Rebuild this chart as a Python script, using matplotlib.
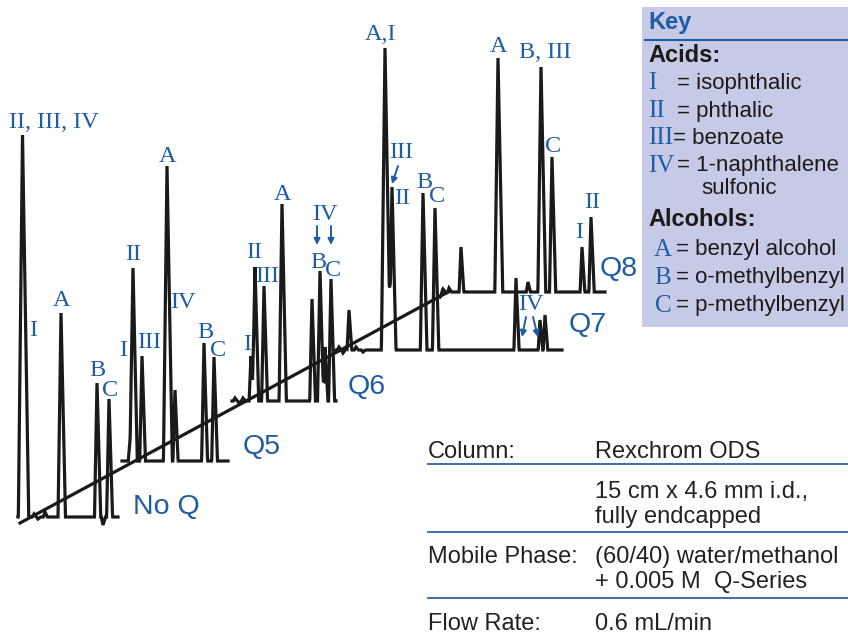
import numpy as np
import matplotlib
matplotlib.use("Agg")
import matplotlib.pyplot as plt

# --- datos: picos de cada cromatograma (posicion relativa, altura) ---
traces = ["No Q", "Q5", "Q6", "Q7", "Q8"]

noq_t = [4.5, 16, 20, 27, 43, 79, 85, 91]
noq_h = [382, 3, -2, 5, 204, 134, -8, 118]

q5_t = [8, 11, 20, 45, 53, 82, 92]
q5_h = [21, 193, 105, 295, 71, 118, 104]

q6_t = [3, 7, 11, 19, 23, 32, 50, 80, 88, 93, 99]
q6_h = [3, -2, 3, 45, 134, 115, 197, 102, 130, 54, 122]

q7_t = [3, 7, 10, 13, 20, 27, 49, 56, 87, 99, 180, 204, 209]
q7_h = [3, -3, 2, 40, 3, -2, 302, 163, 157, 142, 72, 30, 35]

q8_t = [0, 3, 6, 9, 21, 58, 88, 101, 112, 142, 151]
q8_h = [-5, 3, -1, 4, 45, 234, 10, 225, 135, 45, 75]

peak_t = [noq_t, q5_t, q6_t, q7_t, q8_t]
peak_h = [noq_h, q5_h, q6_h, q7_h, q8_h]
trace_len = [100, 106, 104, 226, 165]

# --- posicion de cada traza en la figura (efecto 3D) ---
origins = [(18, 517), (122, 461), (232, 401), (336, 350), (440, 292)]
qlabel_pos = [(133, 507), (243, 447), (348, 387), (569, 325), (600, 269)]

BLUE = "#1f5ca6"
KEYBG = "#c6cae6"


def build_trace(t_end, pos, hts):
    t = np.arange(0, t_end + 0.01, 0.25)
    y = np.zeros_like(t)
    for p, h in zip(pos, hts):
        w = 2.0 + abs(h) / 120.0
        wl, wr = w * 0.8, w * 1.2
        tri = np.where(t < p, 1 - (p - t) / wl, 1 - (t - p) / wr)
        y += h * np.clip(tri, 0, None)
    return t, y


fig = plt.figure(figsize=(8.48, 6.35), dpi=100)
ax = fig.add_axes([0, 0, 1, 1])
ax.set_xlim(0, 848)
ax.set_ylim(635, 0)
ax.axis("off")

for i, name in enumerate(traces):
    t, y = build_trace(trace_len[i], peak_t[i], peak_h[i])
    x0, y0 = origins[i]
    ax.plot(x0 + t, y0 - y, color="#1a1a1a", lw=2.3, solid_joinstyle="miter")
    ax.text(qlabel_pos[i][0], qlabel_pos[i][1], name, color=BLUE, fontsize=20.5,
            family="Liberation Sans", ha="left", va="center")

# eje diagonal
ax.plot([20, 450], [523, 291], color="#1a1a1a", lw=2.3)

# etiquetas de picos
serif = dict(color=BLUE, fontsize=17.5, family="Liberation Serif", ha="center", va="center")
peak_labels = [
    ("II, III, IV", 54, 123), ("I", 33, 330), ("A", 62, 300), ("B", 97, 370), ("C", 110, 390),
    ("II", 133, 255), ("I", 123, 350), ("III", 149, 343), ("A", 168, 157), ("IV", 183, 302),
    ("B", 205, 332), ("C", 218, 350),
    ("I", 247, 345), ("II", 254, 253), ("III", 267, 277), ("A", 283, 195), ("IV", 325, 215),
    ("B", 318, 262), ("C", 333, 270),
    ("A,I", 381, 35), ("III", 401, 153), ("II", 402, 198), ("B", 424, 183), ("C", 437, 196),
    ("IV", 531, 305),
    ("A", 499, 47), ("B, III", 545, 53), ("C", 553, 146), ("I", 579, 232), ("II", 592, 203),
]
for txt, x, y in peak_labels:
    ax.text(x, y, txt, **serif)

arrows = [((317, 226), (317, 245)), ((331, 226), (331, 245)),
          ((398, 166), (392, 184)),
          ((526, 317), (522, 337)), ((533, 317), (538, 337))]
for (xa, ya), (xb, yb) in arrows:
    ax.annotate("", xy=(xb, yb), xytext=(xa, ya),
                arrowprops=dict(arrowstyle="-|>", color=BLUE, lw=1.4,
                                mutation_scale=9, shrinkA=0, shrinkB=0))

# --- cuadro de clave ---
ax.add_patch(plt.Rectangle((642, 7), 206, 320, facecolor=KEYBG, edgecolor="none"))
ax.text(648, 23, "Key", color=BLUE, fontsize=17, fontweight="bold",
        family="Liberation Sans", va="center")
ax.plot([645, 848], [40, 40], color=BLUE, lw=1.5)
ax.text(648, 55, "Acids:", color="#1a1a1a", fontsize=17, fontweight="bold",
        family="Liberation Sans", va="center")
ax.text(648, 220, "Alcohols:", color="#1a1a1a", fontsize=17, fontweight="bold",
        family="Liberation Sans", va="center")

acid_sym = ["I", "II", "III", "IV"]
acid_names = ["isophthalic", "phthalic", "benzoate", "1-naphthalene"]
acid_y = [83, 111, 138, 166]
for s, n, y in zip(acid_sym, acid_names, acid_y):
    ax.text(648, y, s, color=BLUE, fontsize=18, family="Liberation Serif", va="center")
    ax.text(673 if s == "III" else 677, y, "= " + n, color="#1a1a1a", fontsize=16,
            family="Liberation Sans", va="center")
ax.text(701, 188, "sulfonic", color="#1a1a1a", fontsize=16, family="Liberation Sans", va="center")

alc_sym = ["A", "B", "C"]
alc_names = ["benzyl alcohol", "o-methylbenzyl", "p-methylbenzyl"]
alc_y = [250, 278, 306]
for s, n, y in zip(alc_sym, alc_names, alc_y):
    ax.text(663, y, s, color=BLUE, fontsize=18, family="Liberation Serif", va="center", ha="center")
    ax.text(676, y, "= " + n, color="#1a1a1a", fontsize=16, family="Liberation Sans", va="center")

# --- tabla de condiciones ---
tab = dict(color="#222222", fontsize=17, family="Liberation Sans", va="center")
ax.text(428, 452, "Column:", **tab)
ax.text(595, 452, "Rexchrom ODS", **tab)
ax.text(595, 492, "15 cm x 4.6 mm i.d.,", **tab)
ax.text(595, 517, "fully endcapped", **tab)
ax.text(428, 557, "Mobile Phase:", **tab)
ax.text(595, 557, "(60/40) water/methanol", **tab)
ax.text(595, 582, "+ 0.005 M  Q-Series", **tab)
ax.text(428, 624, "Flow Rate:", **tab)
ax.text(595, 624, "0.6 mL/min", **tab)
for yl in [464, 532, 598]:
    ax.plot([428, 848], [yl, yl], color="#2f62a0", lw=1.3)

fig.savefig("out.png", dpi=100)
plt.close(fig)
